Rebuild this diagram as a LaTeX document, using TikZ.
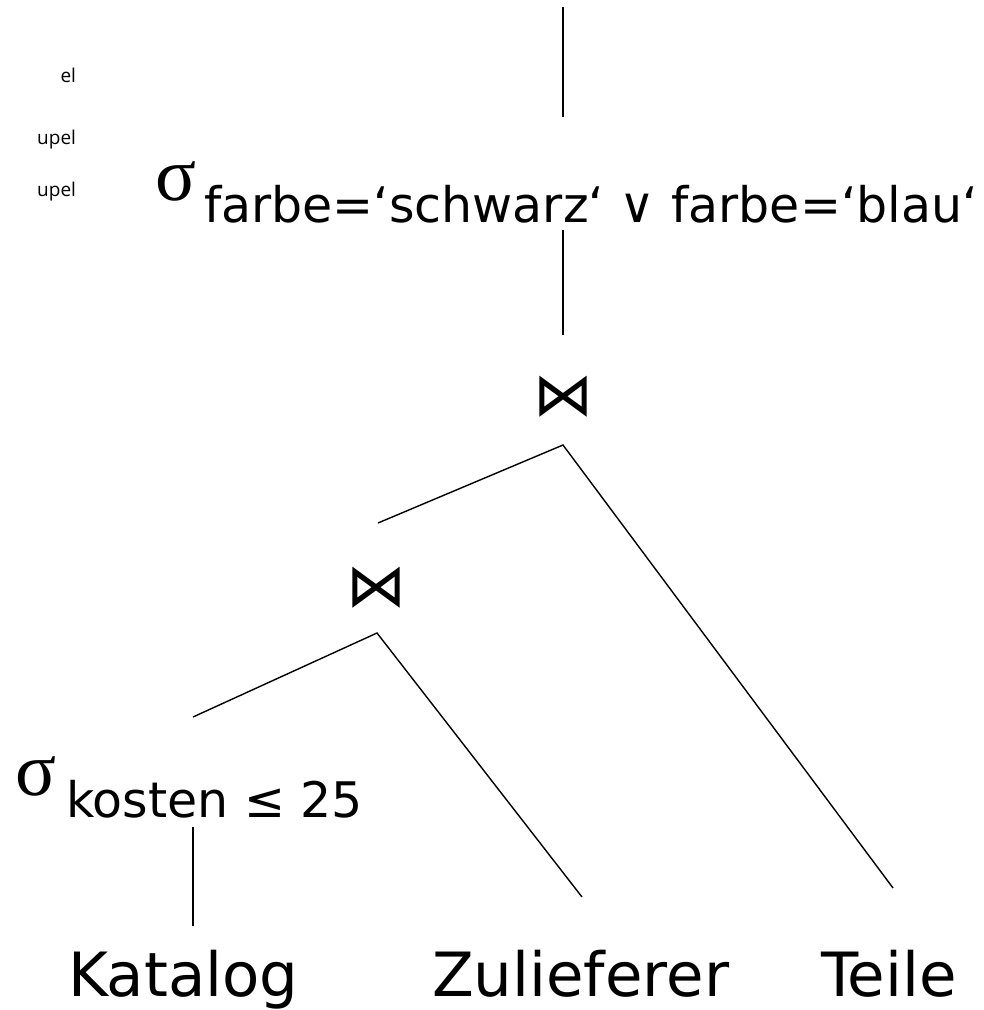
\documentclass[tikz,border=0pt]{standalone}
\usepackage{fontspec}
\setmainfont{DejaVu Sans}
\newfontfamily\smallfont{Open Sans}
\newfontfamily\sigfont{Liberation Serif}
\begin{document}
\begin{tikzpicture}[x=1pt,y=-1pt,
  txt/.style={inner sep=0pt, outer sep=0pt},
  edge/.style={line width=1.4pt, black},
  small/.style={txt, anchor=base east, font=\smallfont\fontsize{19}{22}\selectfont},
  big/.style={txt, anchor=base west, font=\fontsize{61}{70}\selectfont},
  sig/.style={txt, anchor=base west, font=\sigfont\fontsize{76}{80}\selectfont},
  sub/.style={txt, anchor=base west, font=\fontsize{49}{54}\selectfont},
  joinsym/.style={txt, font=\fontsize{60}{64}\selectfont}]
\useasboundingbox (0,0) rectangle (984,1010);

% cut-off legend texts at the left
\node[small] (l1) at (76,82) {el};
\node[small] (l2) at (76,144) {upel};
\node[small] (l3) at (76,196) {upel};

% selection farbe
\node[sig] (s1) at (155,200) {σ};
\node[sub] (s1sub) at (204,222) {farbe=‘schwarz‘ ∨ farbe=‘blau‘};

% joins
\node[joinsym] (j1) at (563,397) {⋈};
\node[joinsym] (j2) at (376,588) {⋈};

% selection kosten
\node[sig] (s2) at (16,795) {σ};
\node[sub] (s2sub) at (66,817) {kosten ≤ 25};

% relations
\node[big] (kat) at (68,996) {Katalog};
\node[big] (zul) at (432,996) {Zulieferer};
\node[big] (tei) at (821,996) {Teile};

% connector end points
\coordinate (top) at (563,7);
\coordinate (s1t) at (563,117);
\coordinate (s1b) at (563,230);
\coordinate (j1t) at (563,335);
\coordinate (j1b) at (563,445);
\coordinate (j1l) at (378,523);
\coordinate (j1r) at (893,888);
\coordinate (j2b) at (377,633);
\coordinate (j2l) at (193,717);
\coordinate (j2r) at (582,897);
\coordinate (s2b) at (193,827);
\coordinate (katt) at (193,926);

\draw[edge] (top) -- (s1t);
\draw[edge] (s1b) -- (j1t);
\draw[edge] (j1l) -- (j1b) -- (j1r);
\draw[edge] (j2l) -- (j2b) -- (j2r);
\draw[edge] (s2b) -- (katt);
\end{tikzpicture}
\end{document}
